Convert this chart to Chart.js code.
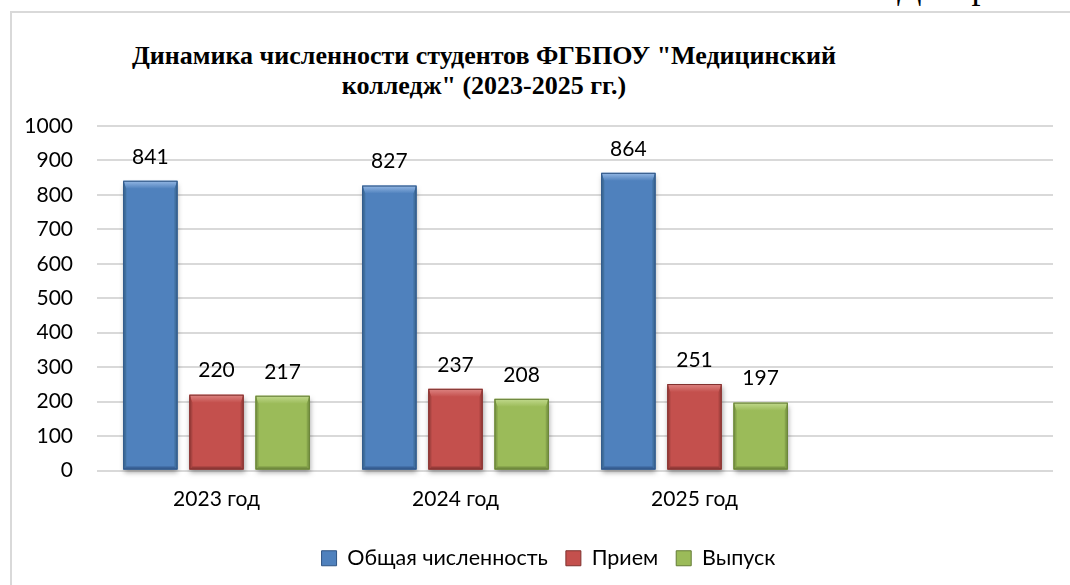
<!DOCTYPE html>
<html>
<head>
<meta charset="utf-8">
<script src="https://cdn.jsdelivr.net/npm/chart.js"></script>
<style>
  body { margin: 0; width: 1070px; height: 585px; overflow: hidden; background: #fff; position: relative; }
  .frame { position: absolute; left: 10px; top: 11px; width: 1100px; height: 600px; border-left: 2px solid #d9d9d9; border-top: 2px solid #d9d9d9; }
  .cut-text { position: absolute; left: 897px; top: 0; height: 10px; overflow: hidden; font: 36px "Liberation Serif", serif; }
  .cut-text span { display: block; line-height: 36px; margin-top: -32px; }
  .title { position: absolute; left: 0; top: 41px; width: 968px; text-align: center; font: bold 26px "Liberation Serif", serif; line-height: 30px; color: #000; }
  .wrap { position: absolute; left: 0; top: 0; width: 1100px; height: 585px; }
</style>
</head>
<body>
<div class="cut-text"><span>Диаграмма</span></div>
<div class="frame"></div>
<div class="title">Динамика численности студентов ФГБПОУ "Медицинский<br>колледж" (2023-2025 гг.)</div>
<div class="wrap"><canvas id="chart"></canvas></div>
<script>
// данные диаграммы
const years = ['2023 год', '2024 год', '2025 год', ''];
const totalStudents = [841, 827, 864, null];
const admission = [220, 237, 251, null];
const graduation = [217, 208, 197, null];
const yTicks = [0, 100, 200, 300, 400, 500, 600, 700, 800, 900, 1000];

// цвета: основной, светлая фаска, боковые грани, низ, контур
const palette = [
    { base: '#4f81bd', light: '#96b9e5', side: '#41709f', bottom: '#3a6399', line: '#2f5584' },
    { base: '#c4504d', light: '#de8583', side: '#a84441', bottom: '#973c3a', line: '#7e302e' },
    { base: '#9bbb59', light: '#c2da8e', side: '#84a24a', bottom: '#7a9544', line: '#647c36' }
];

Chart.defaults.font.family = 'Lato';
Chart.defaults.color = '#000';

function poly(ctx, pts, fill) {
    ctx.fillStyle = fill;
    ctx.beginPath();
    ctx.moveTo(pts[0][0], pts[0][1]);
    for (let k = 1; k < pts.length; k++) ctx.lineTo(pts[k][0], pts[k][1]);
    ctx.closePath();
    ctx.fill();
}

// объёмные столбики + подписи значений
const bevelBars = {
    id: 'bevelBars',
    afterDatasetsDraw(chart) {
        const ctx = chart.ctx;
        chart.data.datasets.forEach((ds, i) => {
            const meta = chart.getDatasetMeta(i);
            const col = palette[i];
            meta.data.forEach((bar, j) => {
                if (ds.data[j] == null) return;
                const { x, y, base, width } = bar.getProps(['x', 'y', 'base', 'width'], true);
                const l = x - width / 2, r = x + width / 2, b = 8, s = 3;

                // тело с тенью
                ctx.save();
                ctx.shadowColor = 'rgba(0,0,0,0.35)';
                ctx.shadowBlur = 5;
                ctx.shadowOffsetX = 1;
                ctx.shadowOffsetY = 3;
                ctx.fillStyle = col.base;
                ctx.fillRect(l, y, width, base - y);
                ctx.restore();

                // грани
                const tg = ctx.createLinearGradient(0, y, 0, y + b);
                tg.addColorStop(0, col.light);
                tg.addColorStop(1, col.base);
                poly(ctx, [[l, y], [r, y], [r - s, y + b], [l + s, y + b]], tg);
                poly(ctx, [[l, y], [l + s, y + b], [l + s, base - s], [l, base]], col.side);
                poly(ctx, [[r, y], [r - s, y + b], [r - s, base - s], [r, base]], col.side);
                poly(ctx, [[l, base], [l + s, base - s], [r - s, base - s], [r, base]], col.bottom);

                ctx.strokeStyle = col.line;
                ctx.lineWidth = 1;
                ctx.strokeRect(l + 0.5, y + 0.5, width - 1, base - y - 1);

                ctx.fillStyle = '#000';
                ctx.font = '21px Lato';
                ctx.textAlign = 'center';
                ctx.textBaseline = 'middle';
                ctx.fillText(ds.data[j], x, y - 24);
            });
        });
    }
};

// легенда в оригинале смещена вправо относительно области графика
const shiftLegend = {
    id: 'shiftLegend',
    afterLayout(chart) {
        const lg = chart.legend;
        lg.left += 22;
        lg.right += 22;
    }
};

new Chart(document.getElementById('chart'), {
    type: 'bar',
    data: {
        labels: years,
        datasets: [
            { label: 'Общая численность', data: totalStudents, backgroundColor: palette[0].base, borderColor: palette[0].line, borderWidth: 1 },
            { label: 'Прием', data: admission, backgroundColor: palette[1].base, borderColor: palette[1].line, borderWidth: 1 },
            { label: 'Выпуск', data: graduation, backgroundColor: palette[2].base, borderColor: palette[2].line, borderWidth: 1 }
        ]
    },
    options: {
        responsive: true, maintainAspectRatio: false, animation: false,
        categoryPercentage: 0.83, barPercentage: 0.82,
        layout: { padding: { top: 126, right: 47, left: 0, bottom: 6 } },
        plugins: {
            legend: {
                position: 'bottom',
                labels: { font: { size: 21.5 }, boxWidth: 15, boxHeight: 15, padding: 18 }
            },
            tooltip: { enabled: false }
        },
        scales: {
            x: {
                afterFit(scale) { scale.height = 59; },
                grid: { display: false, drawTicks: false },
                border: { display: false },
                ticks: { font: { size: 21 }, padding: 16 }
            },
            y: {
                min: 0, max: 1000,
                afterFit(scale) { scale.width = 97; },
                afterBuildTicks(scale) { scale.ticks = yTicks.map(v => ({ value: v })); },
                grid: { color: '#d9d9d9', lineWidth: 2, drawTicks: false },
                border: { display: false },
                ticks: { font: { size: 21 }, padding: 24, callback: v => String(v) }
            }
        }
    },
    plugins: [bevelBars, shiftLegend]
});
</script>
</body>
</html>
